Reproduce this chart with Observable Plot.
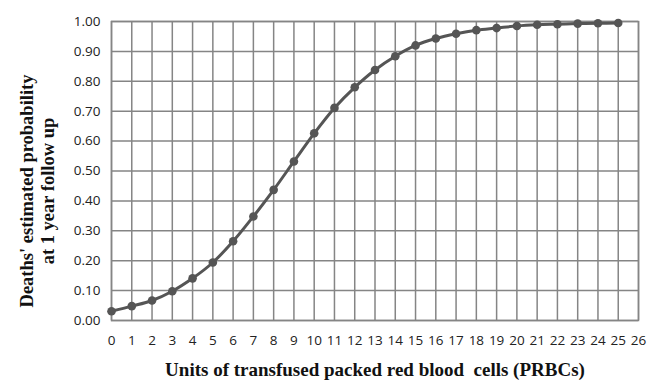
<!DOCTYPE html>
<html>
<head>
<meta charset="utf-8">
<script src="https://cdn.jsdelivr.net/npm/d3@7"></script>
<script src="https://cdn.jsdelivr.net/npm/@observablehq/plot@0.6"></script>
<style>
  html, body { margin: 0; padding: 0; background: #fff; }
  #chart svg { display: block; }
</style>
</head>
<body>
<div id="chart"></div>
<script>
const units = [0,1,2,3,4,5,6,7,8,9,10,11,12,13,14,15,16,17,18,19,20,21,22,23,24,25];
const probability = [0.031,0.048,0.067,0.098,0.141,0.194,0.265,0.348,0.437,0.532,0.626,0.711,0.780,0.838,0.884,0.920,0.943,0.959,0.971,0.978,0.985,0.989,0.991,0.993,0.994,0.995];
const xTicks = [0,1,2,3,4,5,6,7,8,9,10,11,12,13,14,15,16,17,18,19,20,21,22,23,24,25,26];
const yTicks = [0,0.1,0.2,0.3,0.4,0.5,0.6,0.7,0.8,0.9,1.0];
const xTitle = "Units of transfused packed red blood  cells (PRBCs)";
const yTitle = "Deaths' estimated probability\nat 1 year follow up";

const data = units.map((u, i) => ({u, p: probability[i]}));

const gridColor = "#858585";
const lineColor = "#555555";

const chart = Plot.plot({
  width: 649,
  height: 380,
  marginLeft: 111,
  marginRight: 11,
  marginTop: 21,
  marginBottom: 60,
  style: {background: "#fff", fontFamily: "'Open Sans', sans-serif", fontSize: "13.5px", color: "#222"},
  x: {domain: [0, 26], label: null},
  y: {domain: [0, 1], label: null},
  marks: [
    Plot.gridX(xTicks, {stroke: gridColor, strokeOpacity: 1, strokeWidth: 1.5}),
    Plot.gridY(yTicks, {stroke: gridColor, strokeOpacity: 1, strokeWidth: 1.5}),
    Plot.frame({stroke: gridColor, strokeWidth: 1.5}),
    Plot.axisX(xTicks, {tickSize: 0, tickPadding: 15, tickFormat: d => String(d), label: null, fontSize: 13.5, fill: "#222"}),
    Plot.axisY(yTicks, {tickSize: 0, tickPadding: 11, tickFormat: d3.format(".2f"), label: null, fontSize: 13.5, fill: "#222"}),
    Plot.line(data, {x: "u", y: "p", stroke: lineColor, strokeWidth: 3, curve: "catmull-rom"}),
    Plot.dot(data, {x: "u", y: "p", r: 4.3, fill: lineColor, stroke: "none"}),
    Plot.text([yTitle], {frameAnchor: "left", dx: -75, dy: 20, rotate: -90, text: d => d, textAnchor: "middle",
      fontFamily: "'Liberation Serif', serif", fontWeight: "bold", fontSize: 18.5, lineHeight: 1.15, fill: "#111"}),
    Plot.text([xTitle], {frameAnchor: "bottom", dy: 49, text: d => d, textAnchor: "middle", lineAnchor: "middle",
      fontFamily: "'Liberation Serif', serif", fontWeight: "bold", fontSize: 19, fill: "#111"})
  ]
});
document.getElementById("chart").appendChild(chart);
</script>
</body>
</html>
